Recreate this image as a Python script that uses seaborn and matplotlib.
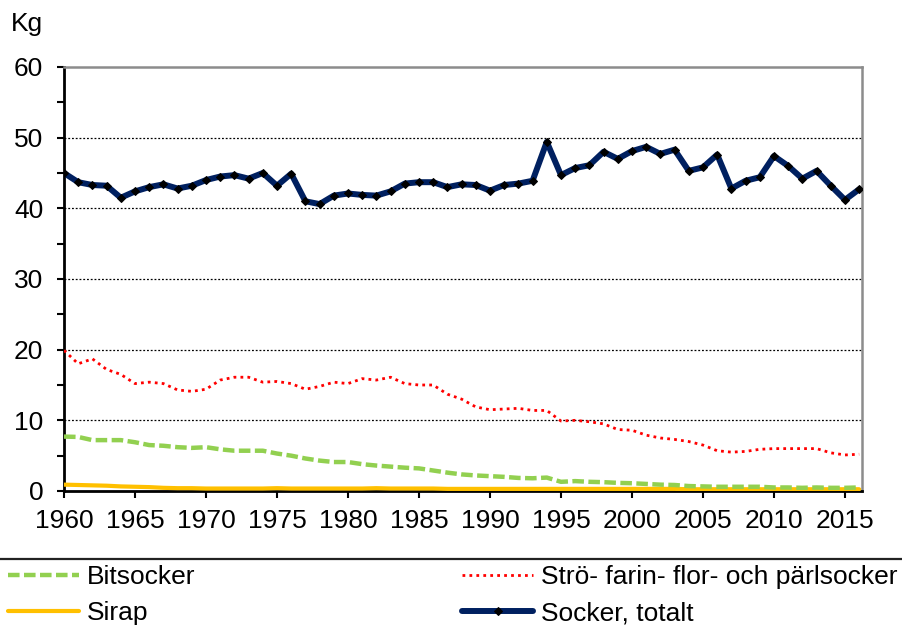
import matplotlib
matplotlib.use("Agg")
import matplotlib.pyplot as plt
from matplotlib.lines import Line2D
from matplotlib.ticker import MultipleLocator
import seaborn as sns

# Data (kg per person and year)
years = list(range(1960, 2017))
bitsocker = [7.7, 7.65, 7.2, 7.2, 7.2, 6.9, 6.5, 6.4, 6.2, 6.1,
             6.2, 5.9, 5.7, 5.7, 5.7, 5.3, 5.0, 4.6, 4.3, 4.1,
             4.1, 3.8, 3.6, 3.45, 3.3, 3.2, 2.9, 2.6, 2.35, 2.2,
             2.1, 2.0, 1.85, 1.8, 1.9, 1.3, 1.4, 1.3, 1.25, 1.15,
             1.1, 1.0, 0.9, 0.85, 0.7, 0.65, 0.6, 0.6, 0.6, 0.6,
             0.5, 0.5, 0.45, 0.5, 0.45, 0.45, 0.5]
stro = [19.9, 18.0, 18.7, 17.2, 16.5, 15.2, 15.4, 15.2, 14.3, 14.1,
        14.4, 15.7, 16.1, 16.1, 15.4, 15.5, 15.2, 14.4, 14.8, 15.4,
        15.2, 15.9, 15.7, 16.1, 15.2, 15.0, 15.0, 13.7, 13.0, 11.9,
        11.5, 11.6, 11.7, 11.4, 11.4, 9.9, 10.0, 9.8, 9.5, 8.7,
        8.6, 7.9, 7.5, 7.3, 7.0, 6.5, 5.7, 5.5, 5.6, 5.9,
        6.0, 6.0, 6.0, 6.0, 5.4, 5.1, 5.2]
sirap = [0.9, 0.85, 0.8, 0.75, 0.65, 0.6, 0.55, 0.45, 0.4, 0.4,
         0.35, 0.35, 0.35, 0.35, 0.35, 0.4, 0.35, 0.35, 0.35, 0.35,
         0.35, 0.35, 0.4, 0.35, 0.35, 0.35, 0.35, 0.3, 0.3, 0.3,
         0.3, 0.3, 0.3, 0.3, 0.3, 0.3, 0.3, 0.3, 0.3, 0.3,
         0.3, 0.3, 0.3, 0.3, 0.25, 0.25, 0.25, 0.25, 0.25, 0.25,
         0.25, 0.25, 0.25, 0.25, 0.25, 0.25, 0.25]
totalt = [45.0, 43.7, 43.3, 43.2, 41.5, 42.4, 43.0, 43.4, 42.8, 43.2,
          44.0, 44.5, 44.7, 44.2, 45.0, 43.2, 44.9, 41.0, 40.6, 41.8,
          42.1, 41.9, 41.8, 42.4, 43.5, 43.7, 43.7, 43.0, 43.4, 43.3,
          42.5, 43.3, 43.5, 43.9, 49.4, 44.7, 45.7, 46.1, 48.0, 47.0,
          48.1, 48.7, 47.7, 48.3, 45.3, 45.8, 47.6, 42.8, 43.9, 44.4,
          47.4, 46.0, 44.2, 45.3, 43.2, 41.2, 42.7]

sns.set_theme(style="white")
plt.rcParams['font.family'] = ['Liberation Sans', 'DejaVu Sans']
plt.rcParams['text.color'] = 'black'
plt.rcParams['xtick.color'] = 'black'
plt.rcParams['ytick.color'] = 'black'
FS = 19

fig = plt.figure(figsize=(9.02, 6.25), dpi=100)
ax = fig.add_axes([64 / 902, 1 - 491 / 625, (862 - 64) / 902, (491 - 67) / 625])

# grid lines first
for v in [10, 20, 30, 40, 50]:
    ax.axhline(v, color='black', lw=0.9, ls=(0, (1.5, 1.5)), zorder=1)

sns.lineplot(x=years, y=sirap, ax=ax, color='#FFC000', lw=3, label='Sirap', zorder=3)
sns.lineplot(x=years, y=bitsocker, ax=ax, color='#92D050', lw=3.2,
             linestyle=(0, (2.6, 1.0)), label='Bitsocker', zorder=4)
sns.lineplot(x=years, y=stro, ax=ax, color='#FF0000', lw=2,
             linestyle=(0, (1, 1.5)), label='Strö- farin- flor- och pärlsocker', zorder=4)
sns.lineplot(x=years, y=totalt, ax=ax, color='#002060', lw=4.3, marker='D',
             markersize=4.5, markerfacecolor='black', markeredgecolor='black',
             label='Socker, totalt', zorder=5)

ax.set_xlim(1960, 2016.2)
ax.set_ylim(0, 60)
ax.set_xticks(list(range(1960, 2016, 5)))
ax.yaxis.set_major_locator(MultipleLocator(10))
ax.yaxis.set_minor_locator(MultipleLocator(5))
ax.set_xlabel('')
ax.set_ylabel('')

ax.tick_params(axis='x', which='major', direction='out', length=5, width=1.5,
               color='black', labelsize=FS, pad=8, bottom=True)
ax.tick_params(axis='y', which='both', direction='out', length=5, width=1.5,
               color='black', labelsize=FS, pad=10, left=True)

for side in ['left', 'bottom']:
    ax.spines[side].set_color('black')
    ax.spines[side].set_linewidth(2)
for side in ['top', 'right']:
    ax.spines[side].set_color('#8c8c8c')
    ax.spines[side].set_linewidth(1.8)

handles, labels = ax.get_legend_handles_labels()
ax.get_legend().remove()
hmap = dict(zip(labels, handles))

fig.text(11 / 902, 1 - 31 / 625, 'Kg', fontsize=FS, va='baseline', ha='left')

# separator line above legend
fig.add_artist(Line2D([0, 1], [1 - 559 / 625, 1 - 559 / 625], color='#222222', lw=1.6,
                      transform=fig.transFigure))

leg_kw = dict(frameon=False, fontsize=FS, loc='upper left', handlelength=2.7,
              handletextpad=0.3, labelspacing=0.46, borderpad=0, borderaxespad=0)
col1 = ['Bitsocker', 'Sirap']
col2 = ['Strö- farin- flor- och pärlsocker', 'Socker, totalt']
fig.legend([hmap[l] for l in col1], col1, bbox_to_anchor=(8 / 902, 1 - 565 / 625), **leg_kw)
fig.legend([hmap[l] for l in col2], col2, bbox_to_anchor=(462 / 902, 1 - 565 / 625), **leg_kw)

fig.savefig('out.png', dpi=100)
